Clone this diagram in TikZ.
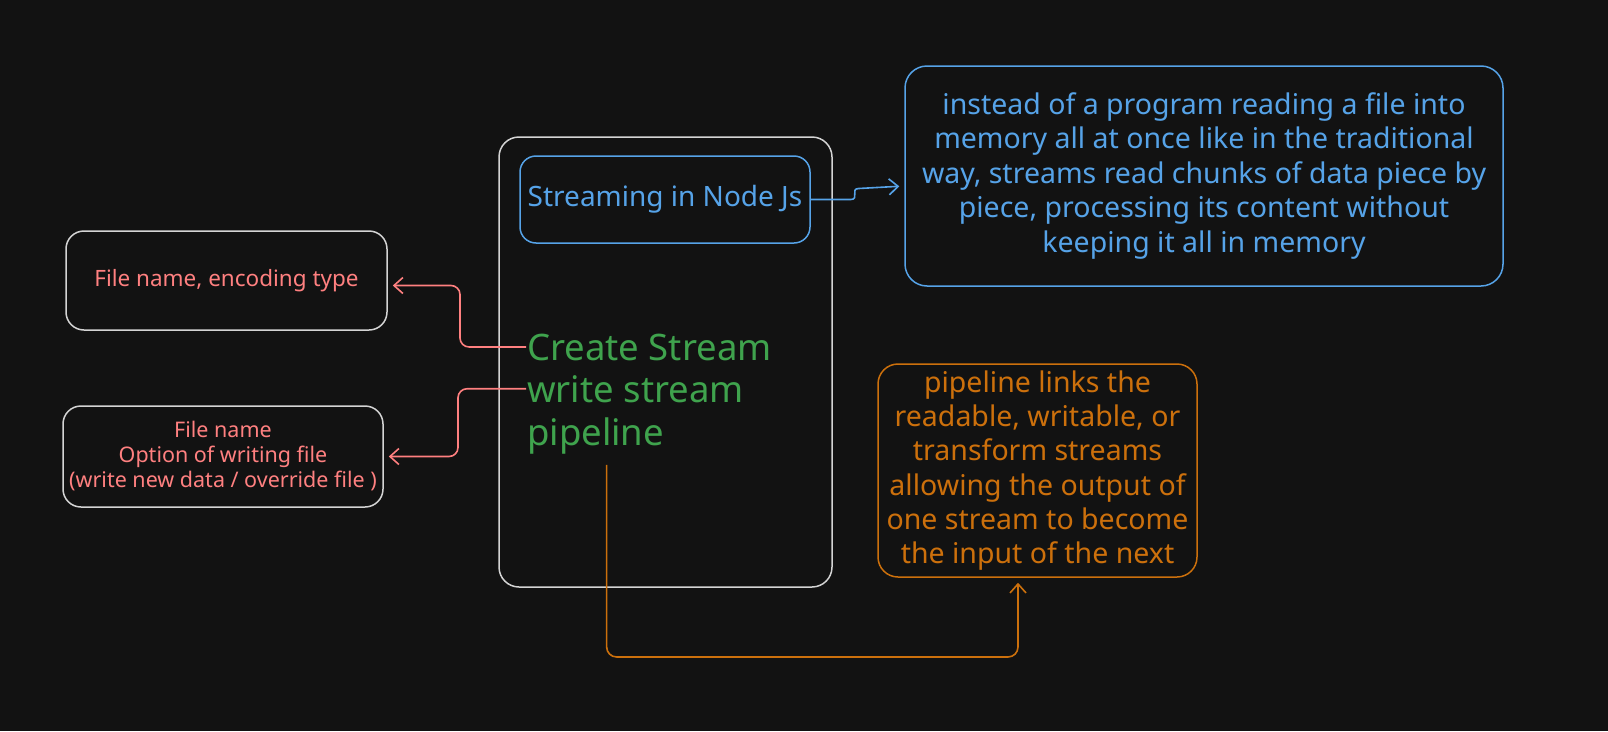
\documentclass[tikz,border=0pt]{standalone}
\usepackage{fontspec}
\setmainfont{Noto Sans}
\usetikzlibrary{arrows.meta,calc}
\definecolor{bgc}{HTML}{121212}
\definecolor{grayc}{HTML}{D4D4D4}
\definecolor{bluec}{HTML}{56A3E8}
\definecolor{redc}{HTML}{FF8080}
\definecolor{greenc}{HTML}{3FA34D}
\definecolor{orangec}{HTML}{CC700C}
\tikzset{
  sbox/.style={draw, line width=1.5pt, rounded corners=#1, inner sep=0pt, align=center},
  sbox/.default=18pt,
  conn/.style={line width=1.6pt, -{Straight Barb[length=9pt,width=16pt,line width=1.6pt]}, shorten >=5pt},
  greentext/.style={text=greenc, font=\fontsize{36.5}{42}\selectfont, anchor=base west, inner sep=1pt},
}
\begin{document}
\begin{tikzpicture}[x=1pt,y=-1pt]
\fill[bgc] (0,0) rectangle (1608,731);
\useasboundingbox (0,0) rectangle (1608,731);

% main box
\node[sbox=20pt, draw=grayc, minimum width=333pt, minimum height=450pt] (main) at (665.5,362) {};
% title box
\node[sbox=16pt, draw=bluec, text=bluec, minimum width=290pt, minimum height=87pt,
      font=\fontsize{28}{32}\selectfont] (title) at (665,199.5) {Streaming in Node Js};
% description box
\node[sbox=22pt, draw=bluec, text=bluec, minimum width=598pt, minimum height=220pt,
      font=\fontsize{28.5}{34.5}\selectfont] (desc) at (1204,176)
  {instead of a program reading a file into\\memory all at once like in the traditional\\way, streams read chunks of data piece by\\piece, processing its content without\\keeping it all in memory};
% left boxes
\node[sbox=18pt, draw=grayc, text=redc, minimum width=321pt, minimum height=99pt,
      font=\fontsize{22.5}{26}\selectfont] (enc) at (226.5,280.5) {File name, encoding type};
\node[sbox=18pt, draw=grayc, text=redc, minimum width=320pt, minimum height=101pt,
      font=\fontsize{21.5}{25}\selectfont] (opts) at (223,456.5)
  {File name\\Option of writing file\\(write new data / override file )};
% pipeline description
\node[sbox=20pt, draw=orangec, text=orangec, minimum width=319pt, minimum height=213pt,
      font=\fontsize{28.5}{34.2}\selectfont] (pipedesc) at (1037.5,470.5)
  {pipeline links the\\readable, writable, or\\transform streams\\allowing the output of\\one stream to become\\the input of the next};
% green text
\node[greentext] (create) at (526,360) {Create Stream};
\node[greentext] (write) at (526,402) {write stream};
\node[greentext] (pipe) at (526,445) {pipeline};

% connectors
\draw[conn, draw=redc, rounded corners=9pt] (create.west) -- ++(-66,0) |- ([yshift=-5pt]enc.east);
\draw[conn, draw=redc, rounded corners=9pt] (write.west) -- ++(-68,0) |- (opts.east);
\draw[conn, draw=bluec] (title.east) -- ++(40,0) .. controls +(9,0) and +(-9,0) .. ++(8,-11) -- ([yshift=-10pt]desc.west);
\coordinate (pturn) at (1018,657);
\draw[conn, draw=orangec, rounded corners=10pt] ([xshift=11pt,yshift=-10pt]pipe.south) |- (pturn) -- (pipedesc.south -| pturn);
\end{tikzpicture}
\end{document}
